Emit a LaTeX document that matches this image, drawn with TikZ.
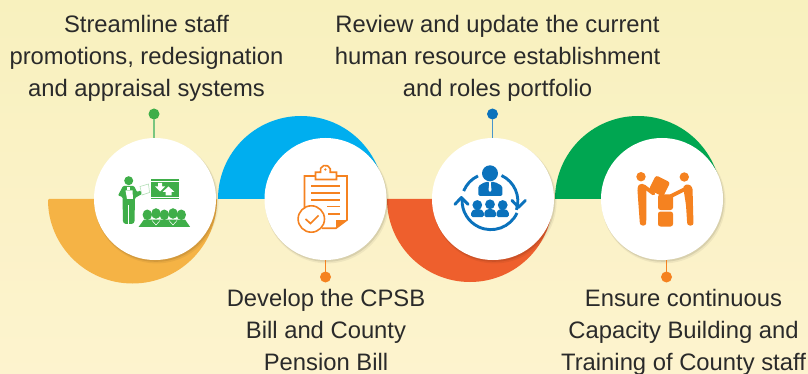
\documentclass[tikz,border=0pt]{standalone}
\usepackage{fontspec}
\setmainfont{Liberation Sans}
\definecolor{cYel}{HTML}{F5B345}
\definecolor{cSky}{HTML}{00AEEF}
\definecolor{cRed}{HTML}{EE5F2D}
\definecolor{cGrn}{HTML}{00A651}
\definecolor{iGrn}{HTML}{3FAE49}
\definecolor{iOrg}{HTML}{F58220}
\definecolor{iBlu}{HTML}{0B72BC}
\definecolor{cTxt}{HTML}{2A2A2A}
\definecolor{bgTop}{HTML}{F8F1BE}
\definecolor{bgBot}{HTML}{FDF3CE}
\tikzset{
  x=1pt,y=-1pt,
  disc/.style={circle,fill=white,minimum size=122pt,inner sep=0pt,outer sep=0pt},
  dotn/.style={circle,minimum size=11pt,inner sep=0pt,outer sep=0pt},
  lbl/.style={anchor=base,align=center,inner sep=0pt,text=cTxt,font=\fontsize{23.8}{32}\selectfont},
  stem/.style={line width=1.6pt},
  ol/.style={draw=iOrg,line width=1.6pt,line join=miter},
  ring/.style={iBlu,line width=2.9pt},
  chev/.style={iBlu,line width=2.9pt,line cap=round,line join=round},
}
\newcommand{\softshadow}[2]{%
  \fill[black,opacity=.05] (#1+1.6,#2+2.4) circle[radius=62];
  \fill[black,opacity=.09] (#1+1,#2+1.5) circle[radius=61.3];
}
\begin{document}
\begin{tikzpicture}
\useasboundingbox (0,0) rectangle (808,374);
\shade[top color=bgTop,bottom color=bgBot] (0,0) rectangle (808,374);
% half discs
\fill[cYel,rounded corners=1pt] (48,199) arc[start angle=180,end angle=0,radius=84.5] -- cycle;
\fill[cSky] (218,199) arc[start angle=180,end angle=360,radius=83] -- cycle;
\fill[cRed] (387,199) arc[start angle=180,end angle=0,radius=83] -- cycle;
\fill[cGrn] (555,199) arc[start angle=180,end angle=360,radius=83] -- cycle;
% discs
\softshadow{155}{199}
\node[disc] (c1) at (155,199) {};
\softshadow{325.5}{199}
\node[disc] (c2) at (325.5,199) {};
\softshadow{493}{199}
\node[disc] (c3) at (493,199) {};
\softshadow{662}{199}
\node[disc] (c4) at (662,199) {};
% pins
\node[dotn,fill=iGrn] (d1) at (154,114) {};
\node[dotn,fill=iOrg] (d2) at (325.5,277) {};
\node[dotn,fill=iBlu] (d3) at (492.5,114) {};
\node[dotn,fill=iOrg] (d4) at (666.5,277) {};
\coordinate (e1) at (154,138.5);
\coordinate (e2) at (325.5,259.5);
\coordinate (e3) at (492.5,138.5);
\coordinate (e4) at (666.5,259.5);
\draw[stem,draw=iGrn!70] (d1) -- (e1);
\draw[stem,draw=iOrg] (d2) -- (e2);
\draw[stem,draw=iBlu!75] (d3) -- (e3);
\draw[stem,draw=iOrg] (d4) -- (e4);
% labels
\node[lbl] (t1) at (146.5,97) {Streamline staff\\promotions, redesignation\\and appraisal systems};
\node[lbl] (t2) at (326,370) {Develop the CPSB\\Bill and County\\Pension Bill};
\node[lbl] (t3) at (497.5,97) {Review and update the current\\human resource establishment\\and roles portfolio};
\node[lbl] (t4) at (683.5,370) {Ensure continuous\\Capacity Building and\\Training of County staff};
% icon 1: trainer
\begin{scope}
\fill[iGrn] (128.7,180.7) circle[radius=4.5];
\fill[iGrn,rounded corners=1pt] (123,186) -- (134,186) -- (137,192) -- (140.5,190.5) -- (141.8,194) -- (135,198) -- (134.5,222) -- (133,223.8) -- (124.5,223.8) -- (123,222) -- (122.5,197) -- (118,195.5) -- cycle;
\draw[white,line width=.7pt] (128.7,205) -- (128.7,224);
\fill[white] (127,187) -- (130,187) -- (130,190) -- (127,190) -- cycle;
\fill[white] (125.5,190.5) -- (132.5,190.5) -- (133,199) -- (127,199) -- cycle;
\draw[iGrn!45,fill=white,line width=.5pt] (140,186.5) -- (148.5,184) -- (149.5,192.5) -- (142,195) -- cycle;
\fill[iGrn] (150.7,179) rectangle (178.7,199);
\fill[white] (150.7,180.6) rectangle (178.7,181.1);
\fill[white] (150.7,196.6) rectangle (178.7,197.1);
\fill[white] (158,183) -- (162,183) -- (162,186.5) -- (165,186.5) -- (160,191.5) -- (155,186.5) -- (158,186.5) -- cycle;
\fill[white] (165.5,195.5) -- (171.5,195.5) -- (171.5,192) -- (174.5,192) -- (168.5,186.5) -- (162.5,192) -- (165.5,192) -- cycle;
\foreach \hx/\hy in {147.3/214.8,164.3/214.8,181.3/214.8,156/213.5,173/213.5}{
  \fill[iGrn] (\hx,\hy) ellipse[x radius=4.7,y radius=5.3];
}
\fill[iGrn] (144,219.5) -- (185,219.5) -- (190,226.8) -- (138.7,226.8) -- cycle;
\draw[white,line width=.5pt] (152,220.5) -- (156,225) -- (160,220.5) (169,220.5) -- (173,225) -- (177,220.5);
\end{scope}
% icon 2: clipboard
\begin{scope}
\draw[ol] (304.5,208) -- (304.5,176) -- (347,176) -- (347,220) -- (336,228.2) -- (322,228.2);
\fill[iOrg] (336,228.2) -- (347,220) -- (336,220) -- cycle;
\draw[ol,fill=white] (315.5,179.5) -- (315.5,172.3) -- (320.5,172.3) arc[start angle=160,end angle=380,radius=5.2] -- (336.5,172.3) -- (336.5,179.5) -- cycle;
\fill[iOrg] (325.4,169.5) circle[radius=1.3];
\foreach \ly in {186,193.3,200}{\draw[ol] (311.3,\ly) -- (340,\ly);}
\draw[ol] (327.3,206.7) -- (340,206.7);
\draw[ol] (328.3,213.7) -- (340,213.7);
\draw[ol,fill=white] (311.3,219) circle[radius=13.2];
\draw[ol,line width=1.7pt] (305.5,219) -- (310.5,223.5) -- (318.5,215.5);
\end{scope}
% icon 3: people with cycle
\begin{scope}
\fill[iBlu] (490,173.3) circle[radius=8];
\fill[iBlu,rounded corners=1.5pt] (478.3,196) -- (478.3,186) -- (485,182) -- (495,182) -- (502.3,186) -- (502.3,196) -- cycle;
\fill[white] (488.8,182) -- (491.2,182) -- (490.8,184) -- (491.5,190) -- (490,192) -- (488.5,190) -- (489.2,184) -- cycle;
\foreach \hx/\hy in {477.3/205,490/204.3,502.7/205}{\fill[iBlu] (\hx,\hy) circle[radius=4.9];}
\fill[iBlu,rounded corners=1.5pt] (471.2,217) -- (471.2,211.5) -- (475,209) -- (480,209) -- (483.8,211.5) -- (483.8,217) -- cycle;
\fill[iBlu,rounded corners=1.5pt] (484.3,217) -- (484.3,211.5) -- (487.5,209) -- (492.5,209) -- (496,211.5) -- (496,217) -- cycle;
\fill[iBlu,rounded corners=1.5pt] (496.5,217) -- (496.5,211.5) -- (500,209) -- (505,209) -- (508.8,211.5) -- (508.8,217) -- cycle;
\draw[ring] (463.7,191) arc[start angle=202,end angle=245,radius=28.3];
\draw[ring] (501.5,175.5) arc[start angle=295,end angle=378,radius=28.3];
\draw[ring] (517,213) arc[start angle=25,end angle=183,radius=28.8];
\draw[chev] (455,204.3) -- (461.3,197.5) -- (468,204.3);
\draw[chev] (512,200.5) -- (518.5,207.3) -- (525.3,200.5);
\end{scope}
% icon 4: team with boxes
\begin{scope}
\fill[iOrg] (641,176.7) circle[radius=4.7];
\fill[iOrg] (684.3,177) circle[radius=4.7];
\fill[iOrg,rounded corners=2.5pt] (637.3,188) -- (639,184) -- (645,184) -- (646.5,188) -- (646.2,225.5) -- (640,225.5) -- (638.5,205) -- cycle;
\draw[iOrg,line width=3.8pt,line cap=round] (644,186.5) -- (653.5,193.5);
\fill[iOrg,rounded corners=2.5pt] (683,186) -- (688,183.8) -- (692.5,187) -- (693.5,225.5) -- (687.3,225.5) -- (686,205) -- cycle;
\draw[iOrg,line width=3.8pt,line cap=round] (685,189) -- (671,196);
\fill[iOrg,rounded corners=2.5pt,rotate around={-27:(659.5,186)}] (651.5,178) rectangle (667.5,194);
\fill[iOrg,rounded corners=2.5pt] (658,194.5) rectangle (673,210);
\fill[iOrg,rounded corners=2.5pt] (658,211.5) rectangle (673,226.5);
\end{scope}
\end{tikzpicture}
\end{document}
